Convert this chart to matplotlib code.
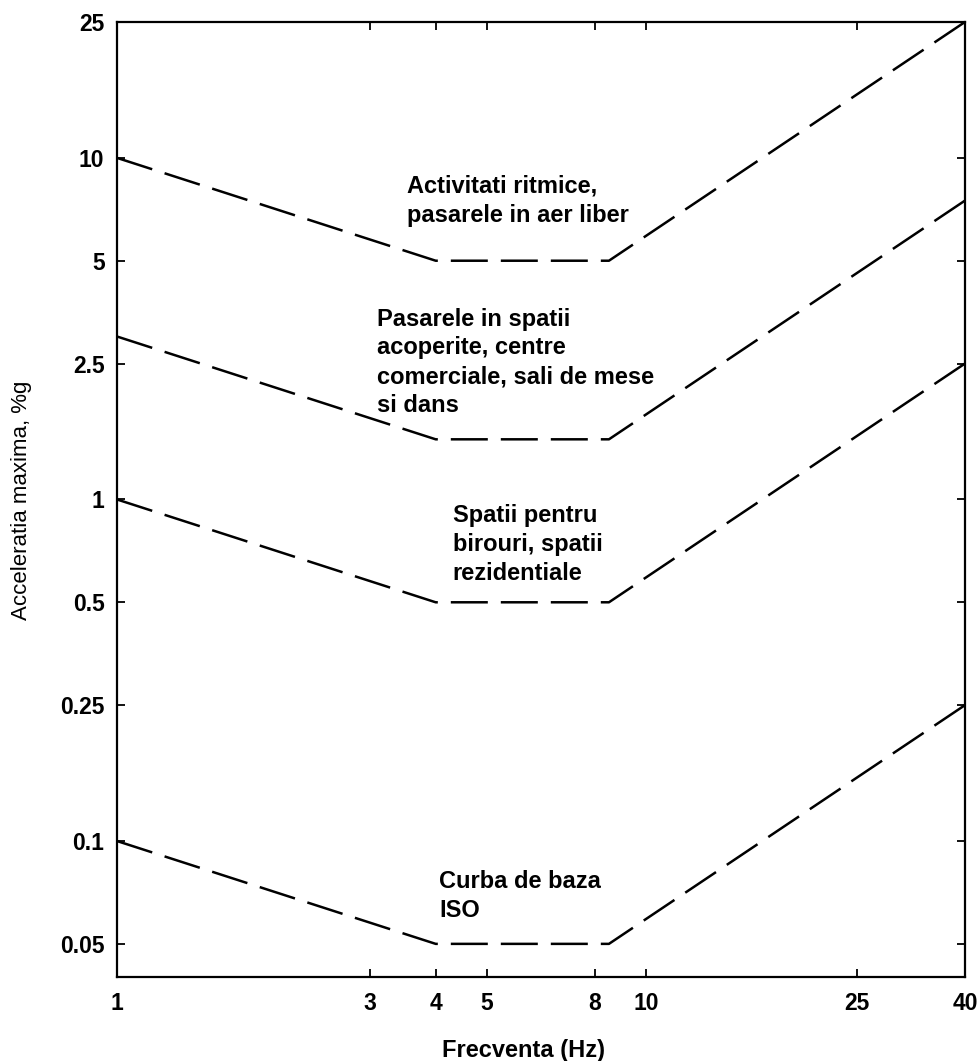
import matplotlib
matplotlib.use("Agg")
import matplotlib.pyplot as plt
from matplotlib.ticker import FixedLocator, FixedFormatter, NullLocator

plt.rcParams['font.family'] = ['Liberation Sans', 'DejaVu Sans']

# Breakpoint frequencies (Hz) of the acceptance curves
freq = [1, 4, 8.5, 40]

# Peak acceleration limits (%g) at each breakpoint
outdoor_rhythmic = [10, 5, 5, 25]
indoor_footbridge = [3, 1.5, 1.5, 7.5]
offices_residences = [1, 0.5, 0.5, 2.5]
iso_baseline = [0.1, 0.05, 0.05, 0.25]

x_ticks = [1, 3, 4, 5, 8, 10, 25, 40]
x_tick_labels = ["1", "3", "4", "5", "8", "10", "25", "40"]
y_ticks = [0.05, 0.1, 0.25, 0.5, 1, 2.5, 5, 10, 25]
y_tick_labels = ["0.05", "0.1", "0.25", "0.5", "1", "2.5", "5", "10", "25"]

curve_labels = [
    "Activitati ritmice,\npasarele in aer liber",
    "Pasarele in spatii\nacoperite, centre\ncomerciale, sali de mese\nsi dans",
    "Spatii pentru\nbirouri, spatii\nrezidentiale",
    "Curba de baza\nISO",
]

fig = plt.figure(figsize=(9.79, 10.61), dpi=100)
ax = fig.add_axes([0.1195, 0.0792, 0.8662, 0.9001])

dash = (0, (14.8, 5.2))
for series in (outdoor_rhythmic, indoor_footbridge, offices_residences, iso_baseline):
    ax.plot(freq, series, color="black", lw=1.8, linestyle=dash,
            dash_capstyle="butt", solid_joinstyle="miter")

ax.set_xscale("log")
ax.set_yscale("log")
ax.set_xlim(1, 40)
ax.set_ylim(0.04, 25)

ax.xaxis.set_major_locator(FixedLocator(x_ticks))
ax.xaxis.set_major_formatter(FixedFormatter(x_tick_labels))
ax.xaxis.set_minor_locator(NullLocator())
ax.yaxis.set_major_locator(FixedLocator(y_ticks))
ax.yaxis.set_major_formatter(FixedFormatter(y_tick_labels))
ax.yaxis.set_minor_locator(NullLocator())

ax.tick_params(which="major", direction="in", length=6, width=1.3,
               top=True, right=True, labelsize=16.5, colors="black")
ax.tick_params(axis="x", pad=11)
ax.tick_params(axis="y", pad=9)
for lbl in ax.get_xticklabels() + ax.get_yticklabels():
    lbl.set_fontweight("bold")
for sp in ax.spines.values():
    sp.set_linewidth(1.6)

label_pos = [(0.342, 0.840), (0.307, 0.701), (0.396, 0.495), (0.380, 0.112)]
for (tx, ty), txt in zip(label_pos, curve_labels):
    ax.text(tx, ty, txt, transform=ax.transAxes, ha="left", va="top",
            fontsize=17, fontweight="bold", linespacing=1.32)

fig.text(523 / 979, 1 - 1050 / 1061, "Frecventa (Hz)", ha="center", va="center",
         fontsize=17, fontweight="bold")
fig.text(22 / 979, 1 - 500 / 1061, "Acceleratia maxima, %g", ha="center", va="center",
         rotation=90, fontsize=16)

fig.savefig("out.png", dpi=100)
